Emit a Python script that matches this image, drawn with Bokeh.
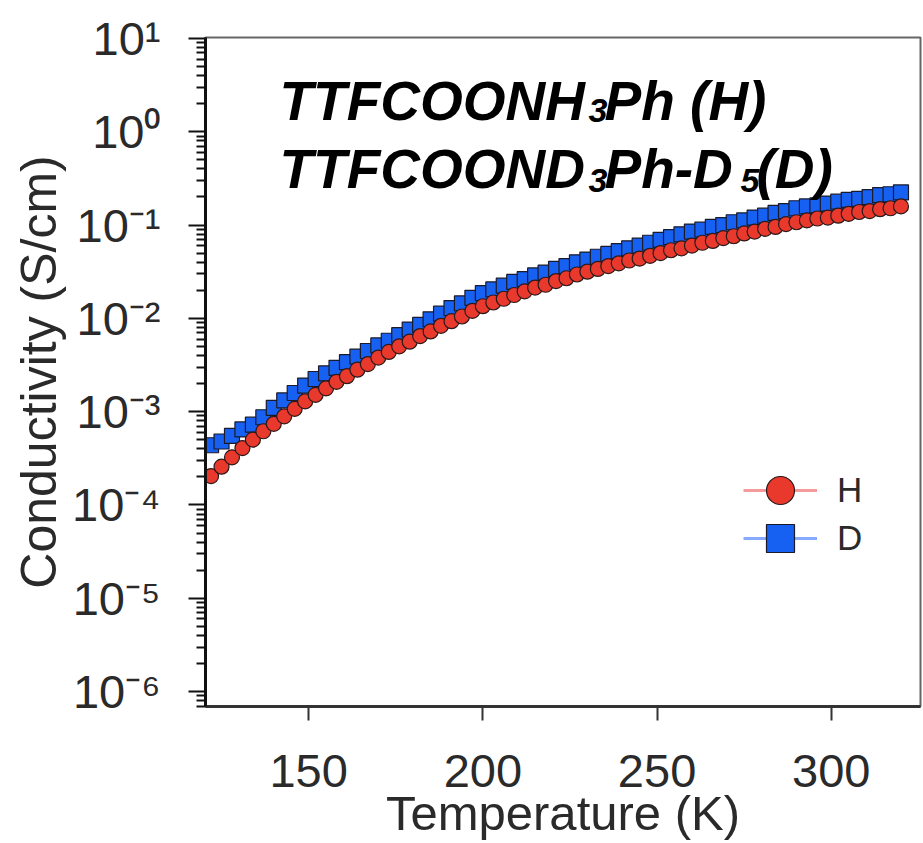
from bokeh.plotting import figure
from bokeh.models import (Range1d, FixedTicker, CustomJSTickFormatter, Label,
                          Legend, LegendItem, ColumnDataSource)
from bokeh.embed import file_html
from bokeh.resources import INLINE

# ---- data (temperature in K, log10 of conductivity in S/cm)
temperature = [122, 125, 128, 131, 134, 137, 140, 143, 146, 149, 152, 155, 158, 161,
               164, 167, 170, 173, 176, 179, 182, 185, 188, 191, 194, 197, 200, 203,
               206, 209, 212, 215, 218, 221, 224, 227, 230, 233, 236, 239, 242, 245,
               248, 251, 254, 257, 260, 263, 266, 269, 272, 275, 278, 281, 284, 287,
               290, 293, 296, 299, 302, 305, 308, 311, 314, 317, 320]

log_sigma_H = [-3.69, -3.59, -3.49, -3.39, -3.30, -3.21, -3.13, -3.05, -2.97, -2.89,
               -2.82, -2.75, -2.68, -2.62, -2.55, -2.49, -2.42, -2.36, -2.30, -2.25,
               -2.19, -2.14, -2.08, -2.03, -1.98, -1.92, -1.87, -1.83, -1.79, -1.75,
               -1.71, -1.67, -1.64, -1.60, -1.57, -1.53, -1.50, -1.47, -1.44, -1.41,
               -1.38, -1.36, -1.33, -1.30, -1.27, -1.25, -1.22, -1.19, -1.17, -1.14,
               -1.12, -1.09, -1.07, -1.04, -1.02, -0.99, -0.97, -0.95, -0.93, -0.92,
               -0.90, -0.88, -0.86, -0.85, -0.83, -0.82, -0.80]

log_sigma_D = [-3.36, -3.32, -3.26, -3.19, -3.14, -3.06, -2.96, -2.88, -2.80, -2.72,
               -2.65, -2.59, -2.53, -2.47, -2.41, -2.35, -2.29, -2.24, -2.18, -2.12,
               -2.07, -2.01, -1.95, -1.89, -1.84, -1.78, -1.73, -1.69, -1.65, -1.61,
               -1.58, -1.54, -1.51, -1.47, -1.44, -1.40, -1.37, -1.34, -1.31, -1.28,
               -1.25, -1.22, -1.19, -1.16, -1.13, -1.10, -1.07, -1.05, -1.02, -1.00,
               -0.97, -0.95, -0.92, -0.90, -0.87, -0.85, -0.82, -0.80, -0.79, -0.77,
               -0.75, -0.73, -0.72, -0.70, -0.68, -0.67, -0.65]

x_ticks = [150, 200, 250, 300]
y_major_exponents = [-6, -5, -4, -3, -2, -1, 0, 1]
series_labels = ["H", "D"]
x_label = "Temperature (K)"
y_label = "Conductivity (S/cm)"

# title pieces: (text, is_subscript, x offset in px from the frame's left edge)
title_line1 = [("TTFCOONH", False, 74), ("3", True, 383), ("Ph (H)", False, 399)]
title_line2 = [("TTFCOOND", False, 74), ("3", True, 383), ("Ph-D", False, 399),
               ("5", True, 535), ("(D)", False, 551)]

# ---- figure
src_H = ColumnDataSource(dict(T=temperature, s=[10 ** v for v in log_sigma_H]))
src_D = ColumnDataSource(dict(T=temperature, s=[10 ** v for v in log_sigma_D]))

p = figure(width=923, height=843, output_backend="svg", toolbar_location=None,
           y_axis_type="log",
           x_range=Range1d(120.4, 325.6), y_range=Range1d(10 ** -6.16, 10 ** 1.01),
           min_border_left=205, min_border_right=3, min_border_top=37,
           min_border_bottom=137)
p.background_fill_color = "white"
p.border_fill_color = "white"
p.xgrid.visible = False
p.ygrid.visible = False
p.outline_line_color = "#666666"
p.outline_line_width = 2

FONT = "Liberation Sans"

# x axis
xa = p.xaxis[0]
xa.ticker = FixedTicker(ticks=x_ticks, minor_ticks=[])
xa.axis_label = x_label
xa.axis_label_text_font = FONT
xa.axis_label_text_font_style = "normal"
xa.axis_label_text_font_size = "49px"
xa.axis_label_text_color = "#2a2a2a"
xa.axis_label_standoff = -4
xa.major_label_text_font = FONT
xa.major_label_text_font_size = "47px"
xa.major_label_text_color = "#2a2a2a"
xa.major_label_standoff = 34
xa.axis_line_width = 3
xa.axis_line_color = "#333333"
xa.major_tick_in = 0
xa.major_tick_out = 14
xa.major_tick_line_width = 2
xa.major_tick_line_color = "#333333"
xa.minor_tick_line_color = None

# y axis
ya = p.yaxis[0]
minor = [m * 10.0 ** e for e in range(-7, 1) for m in range(2, 10)]
ya.ticker = FixedTicker(ticks=[10.0 ** e for e in y_major_exponents], minor_ticks=minor)
ya.formatter = CustomJSTickFormatter(code="""
const sup = {"-":"\u207b","0":"\u2070","1":"\u00b9","2":"\u00b2","3":"\u00b3",
             "4":"\u2074","5":"\u2075","6":"\u2076","7":"\u2077","8":"\u2078","9":"\u2079"};
const e = String(Math.round(Math.log10(tick)));
let s = "";
for (const c of e) { s += sup[c]; }
return "10" + s;
""")
ya.axis_label = y_label
ya.axis_label_text_font = FONT
ya.axis_label_text_font_style = "normal"
ya.axis_label_text_font_size = "50px"
ya.axis_label_text_color = "#2a2a2a"
ya.axis_label_standoff = 2
ya.major_label_text_font = FONT
ya.major_label_text_font_size = "47px"
ya.major_label_text_color = "#2a2a2a"
ya.major_label_standoff = 28
ya.axis_line_width = 3
ya.axis_line_color = "#111111"
ya.major_tick_in = 0
ya.major_tick_out = 17
ya.major_tick_line_width = 2
ya.major_tick_line_color = "#111111"
ya.minor_tick_in = 0
ya.minor_tick_out = 9
ya.minor_tick_line_width = 2
ya.minor_tick_line_color = "#111111"

# data
RED = "#e8392c"
BLUE = "#1761f2"
line_D = p.line("T", "s", source=src_D, line_color="#86aaff", line_width=3)
line_H = p.line("T", "s", source=src_H, line_color="#f59a9a", line_width=3)
sc_D = p.scatter("T", "s", source=src_D, marker="square", size=15,
                 fill_color=BLUE, line_color="#1a1a2a", line_width=1.2)
sc_H = p.scatter("T", "s", source=src_H, marker="circle", size=15,
                 fill_color=RED, line_color="#2a1a1a", line_width=1.2)

# one legend box per entry so that the rows sit as close as in the reference
for lbl, rends, loc in [(series_labels[0], [line_H, sc_H], (538, 181)),
                        (series_labels[1], [line_D, sc_D], (538, 133))]:
    p.add_layout(Legend(items=[LegendItem(label=lbl, renderers=rends)],
                        location=loc, border_line_color=None,
                        background_fill_alpha=0, padding=0, margin=0, spacing=0,
                        glyph_width=74, glyph_height=70, label_standoff=20,
                        label_text_font=FONT, label_text_font_size="35px",
                        label_text_color="#2a2a2a"))

# title text inside the plot (main text baseline / subscript baseline, px above frame bottom)
for pieces, base, sub_base in [(title_line1, 606, 596), (title_line2, 538, 526)]:
    for txt, is_sub, xo in pieces:
        p.add_layout(Label(x=xo, y=sub_base if is_sub else base,
                           x_units="screen", y_units="screen", text=txt,
                           text_font=FONT, text_font_style="bold italic",
                           text_font_size="34px" if is_sub else "55px",
                           text_color="black", text_baseline="alphabetic"))

open("out.html", "w").write(file_html(p, INLINE))
